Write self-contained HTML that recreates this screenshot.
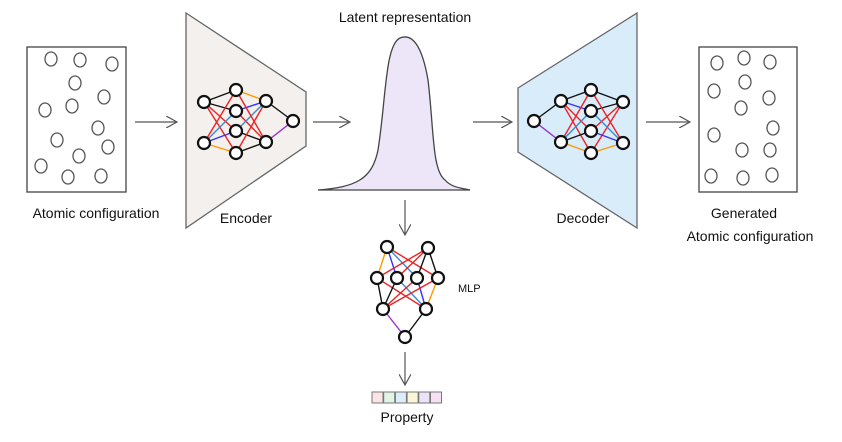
<!DOCTYPE html>
<html><head><meta charset="utf-8"><style>
body{margin:0;background:#fff}
svg text{font-family:"Liberation Sans",sans-serif;font-size:14px;fill:#111}
</style></head><body>
<svg width="842" height="437" viewBox="0 0 842 437">
<defs><marker id="ah" markerWidth="10" markerHeight="10" refX="9" refY="5" orient="auto"><path d="M0,0 L9,5 L0,10" fill="none" stroke="#555" stroke-width="1"/></marker></defs>
<g id="leftbox">
<rect x="27" y="47" width="99" height="145" fill="#fff" stroke="#444" stroke-width="1.3"/>
</g>
<g id="rightbox">
<rect x="699" y="47" width="98" height="145" fill="#fff" stroke="#444" stroke-width="1.3"/>
</g>
<polygon points="186,13 306,92 306,146 186,228" fill="#f3f0ed" stroke="#666" stroke-width="1.3"/>
<polygon points="518,88 637,13 637,228 518,152" fill="#d9ecfa" stroke="#666" stroke-width="1.3"/>
<path d="M318,190 C355,187 372,180 378,150 C386,100 385,45 400,38 C412,33 422,45 428,80 C434,130 432,170 445,180 C452,188 462,188 470,190 Z" fill="#ece6f8" stroke="#444" stroke-width="1.3"/>
<g stroke="#555" stroke-width="1.2" fill="none" marker-end="url(#ah)">
<line x1="135" y1="122" x2="177" y2="122"/>
<line x1="313" y1="122" x2="350" y2="122"/>
<line x1="473" y1="122" x2="512" y2="122"/>
<line x1="646" y1="122" x2="690" y2="122"/>
<line x1="405" y1="200" x2="405" y2="235"/>
<line x1="405" y1="352" x2="405" y2="385"/>
</g>
<g id="nets"></g>
<g id="atoms"></g>
<g id="prop"></g>
<text x="405" y="22" text-anchor="middle">Latent representation</text>
<text x="96" y="218" text-anchor="middle">Atomic configuration</text>
<text x="246" y="223" text-anchor="middle">Encoder</text>
<text x="583" y="223" text-anchor="middle">Decoder</text>
<text x="744" y="218" text-anchor="middle">Generated</text>
<text x="750" y="241" text-anchor="middle">Atomic configuration</text>
<text x="458" y="292" style="font-size:11px">MLP</text>
<text x="407" y="422" text-anchor="middle">Property</text>
</svg>
<script>
const NS="http://www.w3.org/2000/svg";
const leftAtoms=[[51,59],[80,60],[112,64],[75,83],[45,110],[72,106],[104,97],[98,128],[57,140],[108,147],[79,156],[41,166],[68,177],[101,176]];
const rightAtoms=[[717,63],[744,58],[770,62],[714,91],[745,82],[769,98],[741,108],[773,128],[714,135],[742,150],[770,150],[711,176],[743,178],[772,175]];
const encNodes=[[204,102],[204,143],[236,90],[236,111],[236,131],[236,153],[266,101],[266,142],[293,121]];
const encEdges=[[0,2,"#111"],[0,3,"#111"],[0,4,"#e22"],[0,5,"#e22"],[1,2,"#e22"],[1,3,"#3a8ad6"],[1,4,"#33f"],[1,5,"#f90"],[2,6,"#f90"],[3,6,"#33f"],[3,7,"#e22"],[4,6,"#3a8ad6"],[4,7,"#111"],[5,6,"#e22"],[5,7,"#111"],[2,7,"#e22"],[6,8,"#111"],[7,8,"#93c"]];
const decNodes=[[534,121],[561,101],[561,142],[591,90],[591,111],[591,131],[591,153],[623,102],[623,143]];
const decEdges=[[0,1,"#111"],[0,2,"#93c"],[1,3,"#111"],[1,4,"#33f"],[1,5,"#e22"],[1,6,"#e22"],[2,3,"#e22"],[2,4,"#3a8ad6"],[2,5,"#111"],[2,6,"#f90"],[3,7,"#111"],[4,7,"#111"],[5,7,"#e22"],[6,7,"#e22"],[3,8,"#e22"],[4,8,"#3a8ad6"],[5,8,"#33f"],[6,8,"#f90"]];
const mlpNodes=[[387,247],[428,248],[377,278],[397,278],[417,278],[438,278],[383,309],[426,309],[405,337]];
const mlpEdges=[[0,2,"#f90"],[0,3,"#33f"],[0,4,"#3a8ad6"],[0,5,"#e22"],[1,2,"#e22"],[1,3,"#e22"],[1,4,"#111"],[1,5,"#111"],[2,6,"#111"],[2,7,"#e22"],[3,6,"#111"],[3,7,"#3a8ad6"],[4,6,"#e22"],[4,7,"#33f"],[5,6,"#e22"],[5,7,"#f90"],[6,8,"#93c"],[7,8,"#111"]];
const propColors=["#fbe3e6","#e1f5e4","#dcecf9","#fbf5d8","#ebe3f8","#f6e0f4"];
function mk(t,a,p){const e=document.createElementNS(NS,t);for(const k in a)e.setAttribute(k,a[k]);p.appendChild(e);return e;}
const atoms=document.getElementById('atoms');
[leftAtoms,rightAtoms].forEach(arr=>arr.forEach(p=>{const c=mk('ellipse',{cx:p[0],cy:p[1],rx:6,ry:7,fill:'none',stroke:'#555','stroke-width':1.3},atoms);

}));
const nets=document.getElementById('nets');
function net(nodes,edges,name){const g=mk('g',{},nets);


edges.forEach(e=>{const a=nodes[e[0]],b=nodes[e[1]];mk('line',{x1:a[0],y1:a[1],x2:b[0],y2:b[1],stroke:e[2],'stroke-width':1.4},g);});
nodes.forEach(n=>{const c=mk('circle',{cx:n[0],cy:n[1],r:6,fill:'#fff',stroke:'#111','stroke-width':2.2},g);

});}
net(encNodes,encEdges,'encoder-network');net(decNodes,decEdges,'decoder-network');net(mlpNodes,mlpEdges,'mlp-network');
const prop=document.getElementById('prop');
propColors.forEach((c,i)=>{const r=mk('rect',{x:372+i*11.7,y:392,width:11,height:11,fill:c,stroke:'#777','stroke-width':1},prop);

});
</script>
</body></html>
